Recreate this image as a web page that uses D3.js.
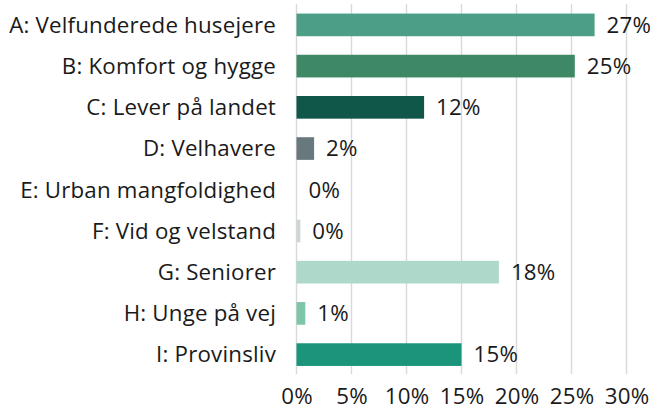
<!DOCTYPE html>
<html>
<head>
<meta charset="utf-8">
<script src="https://cdn.jsdelivr.net/npm/d3@7"></script>
<style>
  body { margin: 0; background: #fff; }
  text { font-family: "Open Sans", sans-serif; fill: #1a1a1a; letter-spacing: 0.2px; }
</style>
</head>
<body>
<div id="chart"></div>
<script>
// Data
var categories = ["A: Velfunderede husejere", "B: Komfort og hygge", "C: Lever på landet",
  "D: Velhavere", "E: Urban mangfoldighed", "F: Vid og velstand", "G: Seniorer",
  "H: Unge på vej", "I: Provinsliv"];
var values = [27.1, 25.3, 11.6, 1.6, 0, 0.35, 18.4, 0.8, 15.0];
var valueLabels = ["27%", "25%", "12%", "2%", "0%", "0%", "18%", "1%", "15%"];
var barColors = ["#4c9f86", "#3e8865", "#10574a", "#68797d", "#cccccc", "#ccd6d6",
  "#aed8ca", "#7fc6a8", "#1a947b"];
var ticks = [0, 5, 10, 15, 20, 25, 30];

var width = 657;
var height = 412;
var fontSize = 22.3;

var svg = d3.select("#chart")
  .append("svg")
  .attr("width", width)
  .attr("height", height);

var x = d3.scaleLinear().domain([0, 30]).range([296.5, 626.5]);
var y = d3.scaleBand().domain(categories).range([4.5, 375]).paddingInner(0.45).paddingOuter(0.22);

// gridlines
svg.append("g")
  .selectAll("line")
  .data(ticks)
  .enter()
  .append("line")
  .attr("x1", function(d) { return x(d); })
  .attr("x2", function(d) { return x(d); })
  .attr("y1", 4)
  .attr("y2", 374)
  .attr("stroke", "#d9d9d9")
  .attr("stroke-width", 1.4);

// x axis labels
var xAxis = d3.axisBottom(x)
  .tickValues(ticks)
  .tickSize(0)
  .tickPadding(0)
  .tickFormat(function(d) { return d + "%"; });

svg.append("g")
  .attr("transform", "translate(0,388.5)")
  .call(xAxis)
  .call(function(g) { g.select(".domain").remove(); })
  .selectAll("text")
  .attr("font-family", "Open Sans, sans-serif")
  .attr("font-size", fontSize)
  .attr("fill", "#1a1a1a");

// category labels
svg.append("g")
  .selectAll("text")
  .data(categories)
  .enter()
  .append("text")
  .attr("x", 276)
  .attr("y", function(d) { return y(d) + y.bandwidth() / 2; })
  .attr("dy", "0.35em")
  .attr("text-anchor", "end")
  .attr("font-size", fontSize)
  .text(function(d) { return d; });

// bars
svg.append("g")
  .selectAll("rect")
  .data(values)
  .enter()
  .append("rect")
  .attr("x", x(0))
  .attr("y", function(d, i) { return y(categories[i]); })
  .attr("width", function(d) { return x(d) - x(0); })
  .attr("height", y.bandwidth())
  .attr("fill", function(d, i) { return barColors[i]; });

// value labels
svg.append("g")
  .selectAll("text")
  .data(values)
  .enter()
  .append("text")
  .attr("x", function(d) { return x(d) + 12; })
  .attr("y", function(d, i) { return y(categories[i]) + y.bandwidth() / 2; })
  .attr("dy", "0.35em")
  .attr("font-size", fontSize)
  .text(function(d, i) { return valueLabels[i]; });
</script>
</body>
</html>
